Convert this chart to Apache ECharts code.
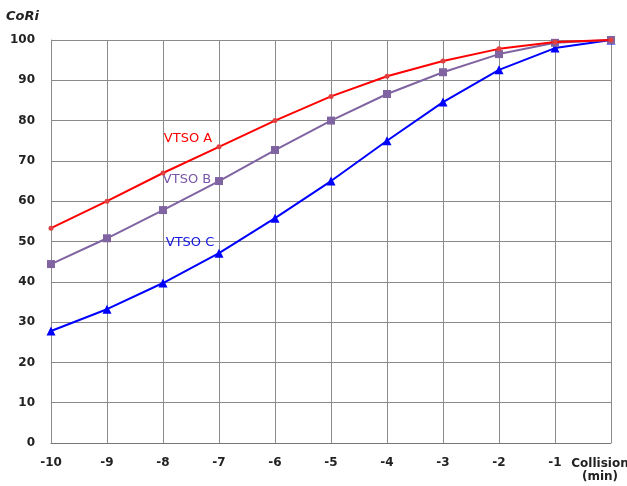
<!DOCTYPE html>
<html><head><meta charset="utf-8">
<script src="https://cdn.jsdelivr.net/npm/echarts@6/dist/echarts.min.js"></script>
<style>html,body{margin:0;padding:0;background:#fff}#c{width:627px;height:486px}</style>
</head><body><div id="c"></div>
<script>
const categories = ['-10','-9','-8','-7','-6','-5','-4','-3','-2','-1','Collision\n(min)'];
const vtsoA = [53.3, 60, 67, 73.5, 80, 86, 91, 94.8, 97.8, 99.5, 100];
const vtsoB = [44.4, 50.8, 57.8, 65, 72.7, 80, 86.6, 92, 96.5, 99.3, 100];
const vtsoC = [27.8, 33.2, 39.7, 47.1, 55.8, 65, 75, 84.6, 92.6, 98, 100];
const yTicks = {min: 0, max: 100, interval: 10};

const chart = echarts.init(document.getElementById('c'));
function withLabel(data, idx, text, color, offset) {
  return data.map((v, i) => i === idx ? {
    value: v,
    label: {show: true, formatter: text, color: color, offset: offset, position: 'inside', fontFamily: 'DejaVu Sans', fontSize: 13}
  } : v);
}
chart.setOption({
  animation: false,
  grid: {left: 51, right: 16, top: 40, bottom: 43, containLabel: false, outerBoundsMode: 'none'},
  xAxis: {
    type: 'category',
    boundaryGap: false,
    data: categories.map((c, i) => i === categories.length - 1 ? {value: c, textStyle: {padding: [0, 22, 0, 0], lineHeight: 13}} : c),
    axisLine: {show: true, lineStyle: {color: '#777', width: 1}},
    axisTick: {show: false},
    axisLabel: {interval: 0, margin: 14, color: '#222', fontWeight: 'bold', fontFamily: 'DejaVu Sans', fontSize: 12},
    splitLine: {show: true, lineStyle: {color: '#8a8a8a', width: 1}}
  },
  yAxis: {
    type: 'value',
    min: yTicks.min, max: yTicks.max, interval: yTicks.interval,
    name: 'CoRi',
    nameLocation: 'end',
    nameGap: 17,
    nameTextStyle: {align: 'left', padding: [0, 0, 0, -45], fontStyle: 'italic', fontWeight: 'bold', color: '#222', fontFamily: 'DejaVu Sans', fontSize: 13},
    axisLine: {show: true, lineStyle: {color: '#8a8a8a'}},
    axisTick: {show: false},
    axisLabel: {margin: 16, color: '#222', fontWeight: 'bold', fontFamily: 'DejaVu Sans', fontSize: 12},
    splitLine: {show: true, lineStyle: {color: '#8a8a8a', width: 1}}
  },
  series: [
    {name: 'VTSO A', type: 'line', data: withLabel(vtsoA, 2, 'VTSO A', '#ff0000', [25, -34]),
     lineStyle: {width: 2, color: '#ff0000'}, symbol: 'circle', symbolSize: 5, itemStyle: {color: '#e04040'}, z: 3},
    {name: 'VTSO B', type: 'line', data: withLabel(vtsoB, 2, 'VTSO B', '#7a55a8', [24, -30]),
     lineStyle: {width: 2, color: '#8064a2'}, symbol: 'rect', symbolSize: 8, itemStyle: {color: '#8064a2'}, z: 2},
    {name: 'VTSO C', type: 'line', data: withLabel(vtsoC, 3, 'VTSO C', '#1515e0', [-29, -11]),
     lineStyle: {width: 2, color: '#0000ff'}, symbol: 'triangle', symbolSize: 9, itemStyle: {color: '#0000ff'}, z: 1}
  ]
});
</script></body></html>
